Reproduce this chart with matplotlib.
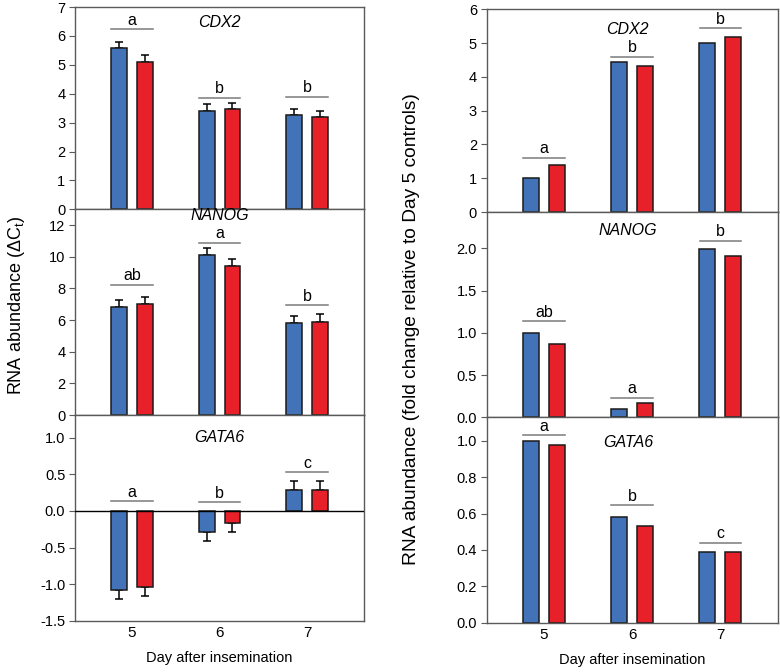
import matplotlib
matplotlib.use("Agg")
import matplotlib.pyplot as plt
import numpy as np

plt.rcParams['font.family'] = ['Liberation Sans', 'DejaVu Sans']
plt.rcParams['mathtext.fontset'] = 'custom'
plt.rcParams['mathtext.rm'] = 'Liberation Sans'
plt.rcParams['mathtext.it'] = 'Liberation Sans:italic'
plt.rcParams['mathtext.default'] = 'regular'

days = [5, 6, 7]
genes = ["CDX2", "NANOG", "GATA6"]

# Left: delta Ct (mean, SEM)
dct_blue = {"CDX2": [5.58, 3.42, 3.25], "NANOG": [6.82, 10.1, 5.81], "GATA6": [-1.08, -0.29, 0.29]}
dct_red = {"CDX2": [5.10, 3.46, 3.20], "NANOG": [7.00, 9.42, 5.90], "GATA6": [-1.04, -0.17, 0.29]}
dct_err_blue = {"CDX2": [0.21, 0.23, 0.23], "NANOG": [0.47, 0.48, 0.48], "GATA6": [0.12, 0.12, 0.12]}
dct_err_red = {"CDX2": [0.23, 0.22, 0.22], "NANOG": [0.48, 0.46, 0.47], "GATA6": [0.12, 0.12, 0.12]}
dct_letters = {"CDX2": ["a", "b", "b"], "NANOG": ["ab", "a", "b"], "GATA6": ["a", "b", "c"]}
dct_letter_y = {"CDX2": [6.23, 3.86, 3.90], "NANOG": [8.23, 10.9, 6.93], "GATA6": [0.137, 0.12, 0.53]}

# Right: fold change
fc_blue = {"CDX2": [1.0, 4.43, 5.01], "NANOG": [1.0, 0.10, 1.99], "GATA6": [1.0, 0.58, 0.39]}
fc_red = {"CDX2": [1.4, 4.33, 5.18], "NANOG": [0.866, 0.165, 1.906], "GATA6": [0.98, 0.532, 0.387]}
fc_letters = {"CDX2": ["a", "b", "b"], "NANOG": ["ab", "a", "b"], "GATA6": ["a", "b", "c"]}
fc_letter_y = {"CDX2": [1.61, 4.6, 5.44], "NANOG": [1.14, 0.23, 2.09], "GATA6": [1.03, 0.648, 0.44]}

BLUE = "#4272B8"
RED = "#E8202A"
SPINE = "#5a5a5a"
LINEGRAY = "#7a7a7a"

fig = plt.figure(figsize=(7.8, 6.72), dpi=100)

left_pos = [(0.0962, 0.6885, 0.3705, 0.3010), (0.0962, 0.3824, 0.3705, 0.3061), (0.0962, 0.0763, 0.3705, 0.3061)]
right_pos = [(0.624, 0.6845, 0.373, 0.3017), (0.624, 0.3790, 0.373, 0.3055), (0.624, 0.0734, 0.373, 0.3056)]

left_ylim = {"CDX2": (0, 7), "NANOG": (0, 13.0), "GATA6": (-1.5, 1.31)}
left_ticks = {"CDX2": np.arange(0, 8, 1), "NANOG": np.arange(0, 13, 2), "GATA6": np.arange(-1.5, 1.01, 0.5)}
left_title_y = {"CDX2": 6.45, "NANOG": 12.62, "GATA6": 1.0}
right_ylim = {"CDX2": (0, 6), "NANOG": (0, 2.43), "GATA6": (0, 1.13)}
right_ticks = {"CDX2": np.arange(0, 7, 1), "NANOG": np.arange(0, 2.01, 0.5), "GATA6": np.arange(0, 1.01, 0.2)}
right_title_y = {"CDX2": 5.4, "NANOG": 2.21, "GATA6": 0.99}
left_fmt = {"CDX2": "{:.0f}", "NANOG": "{:.0f}", "GATA6": "{:.1f}"}
right_fmt = {"CDX2": "{:.0f}", "NANOG": "{:.1f}", "GATA6": "{:.1f}"}

x = np.array(days, dtype=float)
off = 0.148
w = 0.182
half = 0.236


def style(ax, i, yl, ticks, fmt):
    ax.set_xlim(4.35, 7.65)
    ax.set_ylim(*yl)
    ax.set_yticks(ticks)
    ax.set_yticklabels([fmt.format(t) for t in ticks])
    for s in ax.spines.values():
        s.set_color(SPINE)
        s.set_linewidth(1.0)
    ax.tick_params(axis='y', direction='out', length=4, color=SPINE, labelsize=10.5, pad=3)
    ax.set_xticks(days)
    if i == 2:
        ax.set_xticklabels([str(d) for d in days], fontsize=11)
        ax.tick_params(axis='x', length=0, pad=4)
    else:
        ax.tick_params(axis='x', length=0, labelbottom=False)


for i, g in enumerate(genes):
    ax = fig.add_axes(left_pos[i])
    b = np.array(dct_blue[g]); r = np.array(dct_red[g])
    eb = np.array(dct_err_blue[g]); er = np.array(dct_err_red[g])
    ax.bar(x - off, b, w, color=BLUE, edgecolor="#1a1a1a", linewidth=1.1, zorder=2)
    ax.bar(x + off, r, w, color=RED, edgecolor="#1a1a1a", linewidth=1.1, zorder=2)
    for vals, errs, xs in ((b, eb, x - off), (r, er, x + off)):
        up = np.where(vals >= 0, errs, 0)
        dn = np.where(vals < 0, errs, 0)
        ax.errorbar(xs, vals, yerr=[dn, up], fmt='none', ecolor='black', elinewidth=1.1,
                    capsize=3, capthick=1.1, zorder=1)
    if g == "GATA6":
        ax.axhline(0, color='black', linewidth=1.0, zorder=3)
    for j, d in enumerate(days):
        ly = dct_letter_y[g][j]
        ax.plot([d - half, d + half], [ly, ly], color=LINEGRAY, linewidth=1.1, zorder=3)
        ax.annotate(dct_letters[g][j], (d, ly), xytext=(0, 1), textcoords='offset points',
                    ha='center', va='bottom', fontsize=11.5)
    ax.text(6.0, left_title_y[g], g, style='italic', ha='center', va='center', fontsize=11.5)
    style(ax, i, left_ylim[g], left_ticks[g], left_fmt[g])
    if i == 2:
        ax.set_xlabel("Day after insemination", fontsize=10.5, labelpad=8)

for i, g in enumerate(genes):
    ax = fig.add_axes(right_pos[i])
    b = np.array(fc_blue[g]); r = np.array(fc_red[g])
    ax.bar(x - off, b, w, color=BLUE, edgecolor="#1a1a1a", linewidth=1.1, zorder=2)
    ax.bar(x + off, r, w, color=RED, edgecolor="#1a1a1a", linewidth=1.1, zorder=2)
    for j, d in enumerate(days):
        ly = fc_letter_y[g][j]
        ax.plot([d - half, d + half], [ly, ly], color=LINEGRAY, linewidth=1.1, zorder=3, clip_on=False)
        ax.annotate(fc_letters[g][j], (d, ly), xytext=(0, 1), textcoords='offset points',
                    ha='center', va='bottom', fontsize=11.5)
    ax.text(5.95, right_title_y[g], g, style='italic', ha='center', va='center', fontsize=11.5)
    style(ax, i, right_ylim[g], right_ticks[g], right_fmt[g])
    if i == 2:
        ax.set_xlabel("Day after insemination", fontsize=10.5, labelpad=8)

fig.text(0.021, 0.545, r"RNA abundance ($\Delta$C$_t$)", rotation=90, ha='center', va='center', fontsize=13)
fig.text(0.527, 0.51, "RNA abundance (fold change relative to Day 5 controls)", rotation=90,
         ha='center', va='center', fontsize=13.8)

fig.savefig("out.png", dpi=100)
